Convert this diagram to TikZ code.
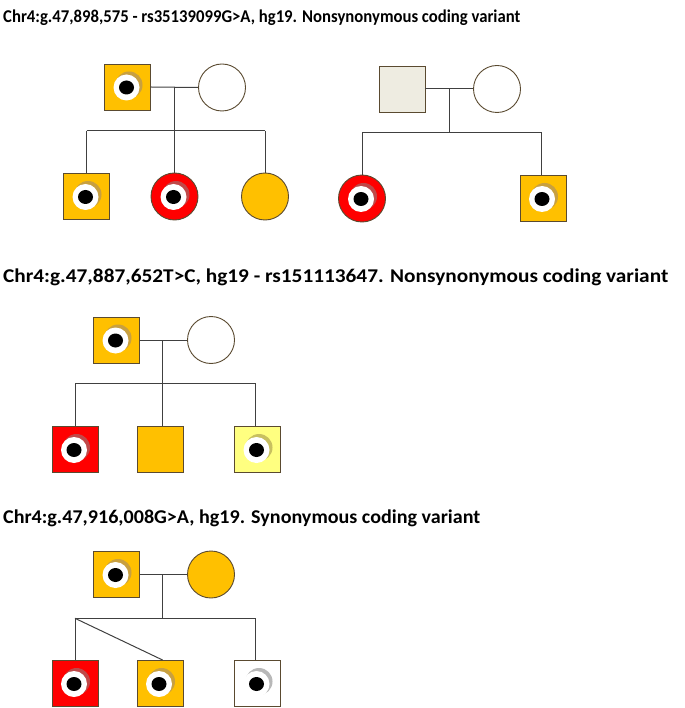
\documentclass[tikz,border=0pt]{standalone}
\usepackage{fontspec}
\setmainfont{Carlito}
\usetikzlibrary{calc}
\definecolor{orng}{HTML}{FFC000}
\definecolor{rd}{HTML}{FF0000}
\definecolor{lyel}{HTML}{FFFF80}
\definecolor{beige}{HTML}{EEECE1}
\definecolor{edge}{HTML}{5A4A30}
\definecolor{linec}{HTML}{404040}
\definecolor{shorng}{HTML}{C8A040}
\definecolor{shred}{HTML}{C04848}
\definecolor{shyel}{HTML}{C8C060}
\definecolor{shwhite}{HTML}{B8B8B8}
\tikzset{
  male/.style={draw=edge, line width=0.9pt, rectangle, minimum size=46pt, inner sep=0pt},
  female/.style={draw=edge, line width=0.9pt, circle, minimum size=47pt, inner sep=0pt},
  carrier/.style={path picture={
     \fill[#1] ($(path picture bounding box.center)+(1.5,-2)$) circle (13.5pt);
     \fill[white] ($(path picture bounding box.center)+(-1,0.5)$) circle (13pt);
     \fill[black] ($(path picture bounding box.center)+(-1,0.5)$) ellipse (7.5pt and 7pt);
  }},
  conn/.style={draw=linec, line width=1pt},
  title/.style={anchor=west, inner sep=0pt, font=\fontsize{18}{21}\selectfont\bfseries},
  bigtitle/.style={anchor=west, inner sep=0pt, font=\fontsize{19.5}{22}\selectfont\bfseries}
}
\begin{document}
\begin{tikzpicture}[x=1pt, y=-1pt]
\useasboundingbox (0,0) rectangle (684,708);
% titles
\node[title] (t1) at (3,18) {\resizebox{517pt}{\height}{Chr4:g.47,898,575 - rs35139099G>A, hg19. Nonsynonymous coding variant}};
\node[bigtitle] (t2) at (3,277) {\resizebox{665pt}{\height}{Chr4:g.47,887,652T>C, hg19 - rs151113647. Nonsynonymous coding variant}};
\node[bigtitle] (t3) at (3,518) {\resizebox{477pt}{\height}{Chr4:g.47,916,008G>A, hg19. Synonymous coding variant}};

% ---------- Pedigree 1a ----------
\node[male, fill=orng, carrier=shorng] (f1) at (127.5,87) {};
\node[female, fill=white] (m1) at (222,87.5) {};
\node[male, fill=orng, carrier=shorng] (s1) at (86.5,196.5) {};
\node[female, fill=rd, carrier=shred] (d1) at (174.5,196.5) {};
\node[female, fill=orng] (d2) at (265,196.5) {};
\coordinate (j1) at (174.5,87);
\coordinate (k1) at (174.5,131);
\coordinate (l1) at (86.5,131);
\coordinate (r1) at (265,131);
\draw[conn] (f1.east) -- (m1.west);
\draw[conn] (j1) -- (d1.north);
\draw[conn] (l1) -- (r1);
\draw[conn] (l1) -- (s1.north);
\draw[conn] (r1) -- (d2.north);

% ---------- Pedigree 1b ----------
\node[male, fill=beige] (f2) at (402,89) {};
\node[female, fill=white] (m2) at (497,89) {};
\node[female, fill=rd, carrier=shred] (d3) at (362,198.5) {};
\node[male, fill=orng, carrier=shorng] (s2) at (543,198.5) {};
\coordinate (j2) at (449,89);
\coordinate (k2) at (449,132.5);
\coordinate (l2) at (362,132.5);
\coordinate (r2) at (541,132.5);
\draw[conn] (f2.east) -- (m2.west);
\draw[conn] (j2) -- (k2);
\draw[conn] (l2) -- (r2);
\draw[conn] (l2) -- (d3.north);
\draw[conn] (r2) -- (r2 |- s2.north);

% ---------- Pedigree 2 ----------
\node[male, fill=orng, carrier=shorng] (f3) at (116.5,340) {};
\node[female, fill=white] (m3) at (211,340) {};
\node[male, fill=rd, carrier=shred] (c1) at (75,449.5) {};
\node[male, fill=orng] (c2) at (160,449.5) {};
\node[male, fill=lyel, carrier=shyel] (c3) at (257.5,449.5) {};
\coordinate (j3) at (162.7,340);
\coordinate (k3) at (162.7,383.3);
\coordinate (l3) at (75,383.3);
\coordinate (r3) at (255.3,383.3);
\draw[conn] (f3.east) -- (m3.west);
\draw[conn] (j3) -- (j3 |- c2.north);
\draw[conn] (l3) -- (r3);
\draw[conn] (l3) -- (c1.north);
\draw[conn] (r3) -- (r3 |- c3.north);

% ---------- Pedigree 3 ----------
\node[male, fill=orng, carrier=shorng] (f4) at (116.5,574.5) {};
\node[female, fill=orng] (m4) at (211,574.5) {};
\node[male, fill=rd, carrier=shred] (c4) at (75,683.5) {};
\node[male, fill=orng, carrier=shorng] (c5) at (160,683.5) {};
\node[male, fill=white, carrier=shwhite] (c6) at (257.5,683.5) {};
\coordinate (j4) at (162.7,574.5);
\coordinate (k4) at (162.7,618.3);
\coordinate (l4) at (75,618.3);
\coordinate (r4) at (255.3,618.3);
\draw[conn] (f4.east) -- (m4.west);
\draw[conn] (j4) -- (k4);
\draw[conn] (l4) -- (r4);
\draw[conn] (l4) -- (c4.north);
\draw[conn] (l4) -- (k4 |- c5.north);
\draw[conn] (r4) -- (r4 |- c6.north);
\end{tikzpicture}
\end{document}
